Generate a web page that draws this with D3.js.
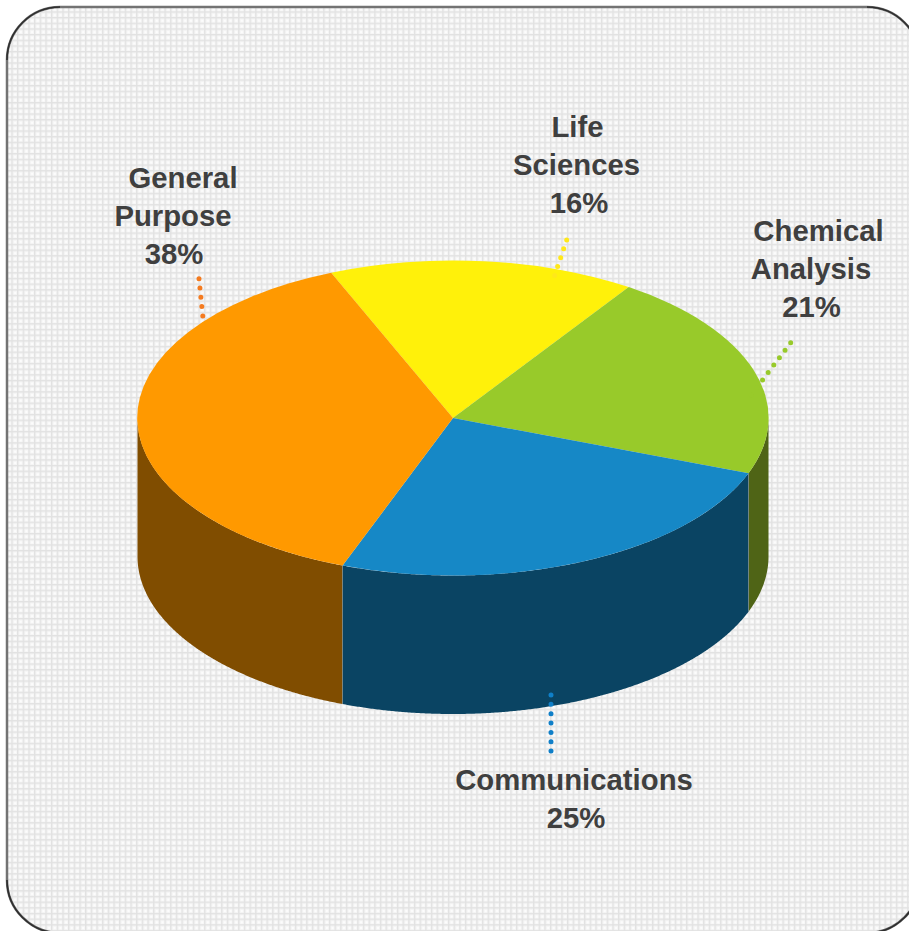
<!DOCTYPE html>
<html><head><meta charset="utf-8">
<script src="https://cdnjs.cloudflare.com/ajax/libs/d3/7.8.5/d3.min.js"></script>
<style>html,body{margin:0;background:#fff}svg{display:block}</style></head>
<body><div id="c"></div>
<script>
const categories = ["Life Sciences","Chemical Analysis","Communications","General Purpose"];
const shares = [15.7,21.3,25,38];
const topColors = ["#fff10a","#98ca2a","#1688c6","#ff9900"];
const sideColors = ["#807805","#4f6416","#0a4463","#804d00"];
const dotColors = ["#ffe81a","#98ca2a","#0f7fc8","#f47b20"];
const labelLines = [["Life","Sciences","16%"],["Chemical","Analysis","21%"],["Communications","25%"],["General","Purpose","38%"]];

const W=909,H=931, cx=453, cy=418, rx=315.5, ry=157.5, depth=138.5;
const svg=d3.select("#c").append("svg").attr("width",W).attr("height",H);
const defs=svg.append("defs");
const P=5.67;
const pat=defs.append("pattern").attr("id","grid").attr("width",P).attr("height",P).attr("patternUnits","userSpaceOnUse");
pat.append("rect").attr("width",P).attr("height",P).attr("fill","#f6f6f6");
pat.append("rect").attr("width",P).attr("height",1.4).attr("fill","#e2e2e2");
pat.append("rect").attr("width",1.4).attr("height",P).attr("fill","#e2e2e2");
pat.append("rect").attr("x",3).attr("y",3).attr("width",1.6).attr("height",1.6).attr("fill","#ffffff");

// panel: the right and bottom edges run past the window
const L=7,T=7,R=920,B=933,r=53;
svg.append("rect").attr("x",L).attr("y",T).attr("width",R-L).attr("height",B-T).attr("rx",r)
  .attr("fill","url(#grid)").attr("stroke","#737373").attr("stroke-width",2.5);
const corners=[`M${L},${T+r}A${r},${r} 0 0 1 ${L+r},${T}`,
               `M${R-r},${T}A${r},${r} 0 0 1 ${R},${T+r}`,
               `M${L},${B-r}A${r},${r} 0 0 0 ${L+r},${B}`,
               `M${R},${B-r}A${r},${r} 0 0 1 ${R-r},${B}`];
svg.selectAll("path.corner").data(corners).join("path").attr("class","corner").attr("d",d=>d)
  .attr("fill","none").attr("stroke","#2e2e2e").attr("stroke-width",1.6);

const start=-22.7*Math.PI/180;
const arcs=d3.pie().sort(null).startAngle(start).endAngle(start+2*Math.PI)(shares);
const px=a=>cx+rx*Math.sin(a), py=a=>cy-ry*Math.cos(a);
const arcGen=d3.arc().innerRadius(0).outerRadius(1);

// side walls: only the front half of the cylinder is visible
const lo=Math.PI/2, hi=3*Math.PI/2;
function norm(a){while(a<0)a+=2*Math.PI;while(a>=2*Math.PI)a-=2*Math.PI;return a;}
arcs.forEach((d,i)=>{
  let a0=norm(d.startAngle), a1=a0+(d.endAngle-d.startAngle);
  const s=Math.max(a0,lo), e=Math.min(a1,hi);
  if(e<=s)return;
  const ts=d3.range(s,e,0.005).concat([e]);
  const top=ts.map(t=>[px(t),py(t)]);
  const bot=ts.slice().reverse().map(t=>[px(t),py(t)+depth]);
  svg.append("path").attr("d",d3.line()(top.concat(bot))+"Z").attr("fill",sideColors[i]);
});
// seams on the wall
arcs.forEach(d=>{
  const a=norm(d.startAngle);
  if(a>lo&&a<hi) svg.append("line").attr("x1",px(a)).attr("x2",px(a)).attr("y1",py(a)).attr("y2",py(a)+depth)
    .attr("stroke","#7f8f8f").attr("stroke-width",1).attr("stroke-opacity",.7);
});
// top face
const g=svg.append("g").attr("transform",`translate(${cx},${cy}) scale(${rx},${ry})`);
g.selectAll("path").data(arcs).join("path").attr("d",arcGen).attr("fill",(d,i)=>topColors[i]);

// leaders: drawn from the outer end so the dots land where they do in the reference
const leaders=[[566.7,240,551.7,284],[790.7,342.7,746,402],[551,695,551,752],[199,278.7,203.7,325]];
leaders.forEach((l,i)=>{
  svg.append("line").attr("x1",l[0]).attr("y1",l[1]).attr("x2",l[2]).attr("y2",l[3])
   .attr("stroke",dotColors[i]).attr("stroke-width",5).attr("stroke-linecap","round").attr("stroke-dasharray","0 9.35");
});
// labels: [centre x per line, first baseline]
const labelX=[[577.5,576.5,579],[818.5,811,811.5],[574,576],[183,173,174]];
const labelY=[137,241,790,188];
const lineStep=[38,38,37.5,38];
labelLines.forEach((ls,i)=>{
  ls.forEach((t,j)=>{
    svg.append("text").attr("x",labelX[i][j]).attr("y",labelY[i]+j*lineStep[i])
      .attr("text-anchor","middle").attr("font-family","Liberation Sans").attr("font-weight","bold")
      .attr("font-size",29.3).attr("fill","#3f3f3f").text(t);
  });
});
</script></body></html>
